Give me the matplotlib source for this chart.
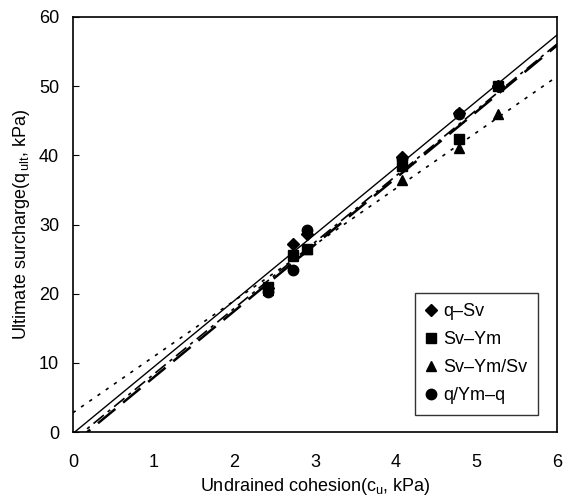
import matplotlib
matplotlib.use('Agg')
import numpy as np
import matplotlib.pyplot as plt

plt.rcParams['font.family'] = ['Liberation Sans', 'DejaVu Sans']
plt.rcParams['mathtext.default'] = 'regular'

# undrained cohesion of each test (kPa)
cohesion = [2.42, 2.73, 2.90, 4.08, 4.78, 5.27]

# ultimate surcharge for each method (kPa)
q_sv = [20.8, 27.2, 28.6, 39.8, 46.1, 50.0]
sv_ym = [21.0, 25.6, 26.5, 38.5, 42.4, 50.0]
sv_ym_sv = [20.5, 25.5, 26.4, 36.4, 41.0, 46.0]
q_ym_q = [20.2, 23.5, 29.2, 39.5, 46.0, 50.0]

# linear trend lines: (slope, intercept)
fit_q_sv = (9.60, -0.2)
fit_sv_ym = (9.60, -1.7)
fit_sv_ym_sv = (8.10, 2.8)
fit_q_ym_q = (9.55, -1.2)

series = [
    ('q\u2013Sv', q_sv, fit_q_sv, 'D', 6.5, '-', 1.0),
    ('Sv\u2013Ym', sv_ym, fit_sv_ym, 's', 7.5, (0, (9, 4)), 1.8),
    ('Sv\u2013Ym/Sv', sv_ym_sv, fit_sv_ym_sv, '^', 7.5, (0, (2, 4)), 1.2),
    ('q/Ym\u2013q', q_ym_q, fit_q_ym_q, 'o', 7.5, (0, (8, 3, 2, 3)), 1.2),
]

fig = plt.figure(figsize=(5.65, 4.99), dpi=100)
ax = fig.add_axes([0.129, 0.134, 0.857, 0.832])

xs = np.linspace(0, 6, 200)
for label, values, (slope, intercept), marker, size, ls, lw in series:
    ax.plot(xs, slope * xs + intercept, color='black', linestyle=ls, linewidth=lw)
    ax.plot(cohesion, values, linestyle='none', marker=marker, markersize=size,
            color='black', label=label)

ax.set_xlim(0, 6)
ax.set_ylim(0, 60)
ax.set_xticks(range(0, 7))
ax.set_yticks(range(0, 61, 10))
ax.tick_params(direction='in', length=4, labelsize=13, pad=10)
ax.tick_params(axis='x', length=0, pad=16)
for spine in ax.spines.values():
    spine.set_linewidth(1.2)

ax.set_xlabel('Undrained cohesion(c$_u$, kPa)', fontsize=13, labelpad=3)
ax.set_ylabel('Ultimate surcharge(q$_{\\,ult}$, kPa)', fontsize=13, labelpad=5)

leg = ax.legend(loc='lower right', bbox_to_anchor=(0.98, 0.02), fontsize=13,
                frameon=True, fancybox=False, edgecolor='black', handlelength=0.6,
                handletextpad=0.4, labelspacing=0.6, borderpad=0.6)
leg.get_frame().set_linewidth(1.0)

fig.savefig('out.png', dpi=100)
